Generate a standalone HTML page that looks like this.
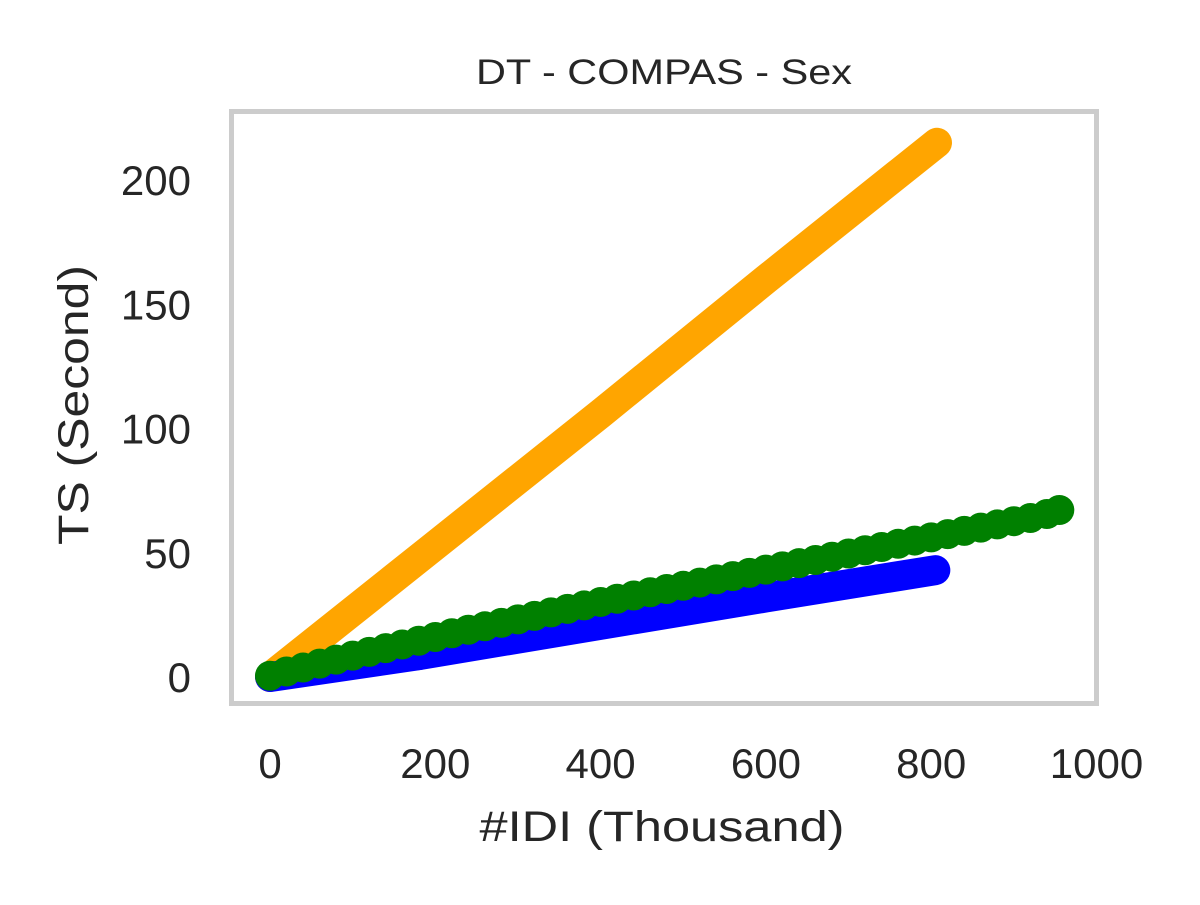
<!DOCTYPE html>
<html><head><meta charset="utf-8"><style>
html,body{margin:0;padding:0;background:#fff;}
svg text{font-family:"Liberation Sans",Arial,sans-serif;fill:#262626;}
</style></head><body>
<svg id="chart" width="1200" height="900" viewBox="0 0 1200 900" xmlns="http://www.w3.org/2000/svg">
<rect x="0" y="0" width="1200" height="900" fill="#fff"/>
<text x="664" y="84" font-size="35" text-anchor="middle" textLength="376" lengthAdjust="spacingAndGlyphs">DT - COMPAS - Sex</text>
<g id="xticks"></g>
<g id="yticks"></g>
<text x="662" y="841" font-size="43" text-anchor="middle" textLength="365" lengthAdjust="spacingAndGlyphs">#IDI (Thousand)</text>
<text transform="translate(88,405) rotate(-90)" font-size="43" text-anchor="middle" textLength="280" lengthAdjust="spacingAndGlyphs">TS (Second)</text>
<g id="series"></g>
<rect x="231.5" y="111.5" width="865" height="592" fill="none" stroke="#cccccc" stroke-width="5"/>
</svg>
<script>
const xTicks = [0, 200, 400, 600, 800, 1000];
const yTicks = [0, 50, 100, 150, 200];
const orangeX = [0, 200, 400, 600, 807];
const orangeY = [0, 53, 106, 160, 215];
const blueX = [0, 180, 400, 600, 805];
const blueY = [0, 8.8, 21, 32, 43];
const greenX = [0,20,40,60,80,100,120,140,160,180,200,220,240,260,280,300,320,340,360,380,400,420,440,460,480,500,520,540,560,580,600,620,640,660,680,700,720,740,760,780,800,820,840,860,880,900,920,940,955];
const greenY = [0.5,2.2,3.8,5.4,7,8.6,10.1,11.6,13.1,14.6,16.1,17.6,19,20.4,21.8,23.2,24.6,26,27.4,28.8,30.2,31.5,32.8,34.1,35.4,36.7,38,39.3,40.6,41.9,43.2,44.5,45.8,47.1,48.4,49.7,51,52.3,53.6,54.9,56.2,57.5,58.8,60.1,61.4,62.7,64,65.6,67.2];
const NS = "http://www.w3.org/2000/svg";
function xs(v){ return 270 + v * 0.8265; }
function ys(v){ return 677 - v * 2.485; }
const xg = document.getElementById('xticks');
xTicks.forEach(t => {
  const el = document.createElementNS(NS, 'text');
  
  
  el.setAttribute('x', xs(t)); el.setAttribute('y', 778);
  el.setAttribute('font-size', '42'); el.setAttribute('text-anchor', 'middle');
  el.textContent = t; xg.appendChild(el);
});
const yg = document.getElementById('yticks');
yTicks.forEach(t => {
  const el = document.createElementNS(NS, 'text');
  
  
  el.setAttribute('x', 191); el.setAttribute('y', ys(t) + 15);
  el.setAttribute('font-size', '42'); el.setAttribute('text-anchor', 'end');
  el.textContent = t; yg.appendChild(el);
});
const sg = document.getElementById('series');
function line(X, Y, color, name){
  const el = document.createElementNS(NS, 'polyline');
  
  
  el.setAttribute('points', X.map((x,i)=>xs(x)+','+ys(Y[i])).join(' '));
  el.setAttribute('fill','none'); el.setAttribute('stroke',color);
  el.setAttribute('stroke-width','30'); el.setAttribute('stroke-linecap','round'); el.setAttribute('stroke-linejoin','round');
  sg.appendChild(el);
}
line(orangeX, orangeY, '#ffa500', 'series-orange');
line(blueX, blueY, '#0000ff', 'series-blue');
const blueBump = document.createElementNS(NS, 'circle');


blueBump.setAttribute('cx', xs(blueX[1])); blueBump.setAttribute('cy', ys(blueY[1])); blueBump.setAttribute('r', 15); blueBump.setAttribute('fill', '#0000ff');
sg.appendChild(blueBump);
greenX.forEach((x,i) => {
  const c = document.createElementNS(NS, 'circle');
  
  
  c.setAttribute('cx', xs(x)); c.setAttribute('cy', ys(greenY[i]));
  c.setAttribute('r', 15); c.setAttribute('fill', '#008000');
  sg.appendChild(c);
});
</script>
</body></html>
